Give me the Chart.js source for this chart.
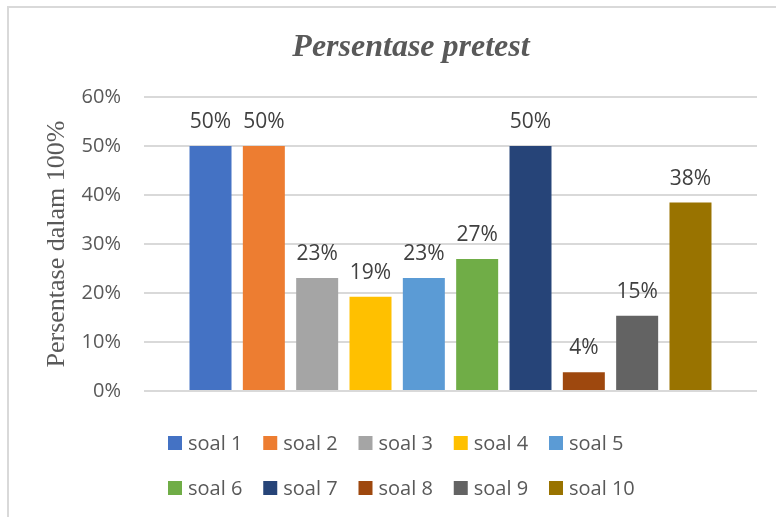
<!DOCTYPE html>
<html>
<head>
<meta charset="utf-8">
<script src="https://cdn.jsdelivr.net/npm/chart.js@4.4.1/dist/chart.umd.min.js"></script>
<style>
  html, body { margin: 0; padding: 0; background: #fff; }
  #wrap { position: relative; width: 776px; height: 517px; }
  #frame { position: absolute; left: 7px; top: 6px; right: 0; bottom: 0;
           border-top: 2px solid #d9d9d9; border-left: 2px solid #d9d9d9; }
  canvas { position: absolute; left: 0; top: 0; }
</style>
</head>
<body>
<div id="wrap">
  <div id="frame"></div>
  <canvas id="myChart" width="776" height="517"></canvas>
</div>
<script>
  const soal = ['soal 1', 'soal 2', 'soal 3', 'soal 4', 'soal 5', 'soal 6', 'soal 7', 'soal 8', 'soal 9', 'soal 10'];
  const persen = [50, 50, 23.08, 19.23, 23.08, 26.92, 50, 3.85, 15.38, 38.46];
  const warna = ['#4472C4', '#ED7D31', '#A5A5A5', '#FFC000', '#5B9BD5', '#70AD47', '#264478', '#9E480E', '#636363', '#997300'];
  const yMax = 60;
  const yStep = 10;

  const grey = '#595959';

  // labels above bars, title and the two-row legend (excel style)
  const extras = {
    id: 'extras',
    afterDatasetsDraw(chart) {
      const ctx = chart.ctx;
      ctx.save();

      ctx.font = '21px "Open Sans"';
      ctx.fillStyle = '#404040';
      ctx.textAlign = 'center';
      ctx.textBaseline = 'alphabetic';
      chart.data.datasets.forEach((ds, i) => {
        const bar = chart.getDatasetMeta(i).data[0];
        ctx.fillText(Math.round(ds.data[0]) + '%', bar.x, bar.y - 18);
      });

      ctx.font = 'italic bold 32px "Liberation Serif"';
      ctx.fillStyle = grey;
      ctx.fillText('Persentase pretest', 411, 56);

      ctx.font = '20px "Open Sans"';
      ctx.textAlign = 'left';
      chart.data.datasets.forEach((ds, i) => {
        const x = 168 + (i % 5) * 95.25;
        const yb = 450 + Math.floor(i / 5) * 45;
        ctx.fillStyle = ds.backgroundColor;
        ctx.fillRect(x, yb - 14, 14, 14);
        ctx.fillStyle = grey;
        ctx.fillText(ds.label, x + 20, yb);
      });

      ctx.restore();
    }
  };

  const ctx = document.getElementById('myChart');

  new Chart(ctx, {
    type: 'bar',
    data: {
      labels: [''],
      datasets: soal.map((s, i) => ({
        label: s,
        data: [persen[i]],
        backgroundColor: warna[i],
        barPercentage: 0.7875,
        categoryPercentage: 0.87
      }))
    },
    options: {
      responsive: false,
      animation: false,
      layout: {
        padding: { left: 40, right: 19, top: 97, bottom: 126 }
      },
      plugins: {
        legend: { display: false },
        tooltip: { enabled: false }
      },
      scales: {
        x: { display: false },
        y: {
          min: 0,
          max: yMax,
          ticks: {
            stepSize: yStep,
            callback: v => v + '%',
            color: grey,
            font: { family: 'Open Sans', size: 20 },
            padding: 23
          },
          grid: { color: '#d9d9d9', lineWidth: 2, drawTicks: false },
          border: { display: false },
          title: {
            display: true,
            text: 'Persentase dalam 100%',
            color: grey,
            font: { family: 'Liberation Serif', size: 26 },
            padding: { top: 2, bottom: 0 }
          },
          afterFit: s => { s.width = 104; }
        }
      }
    },
    plugins: [extras]
  });
</script>
</body>
</html>
